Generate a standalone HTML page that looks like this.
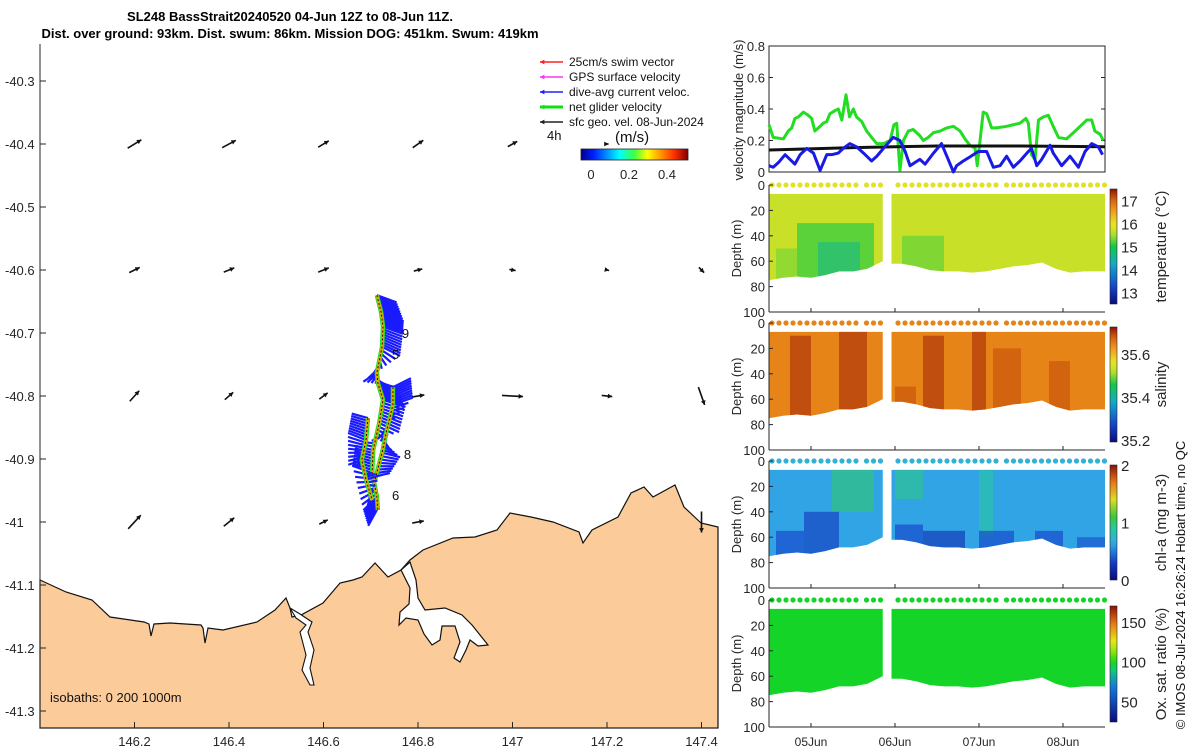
<!DOCTYPE html>
<html><head><meta charset="utf-8">
<style>
html,body{margin:0;padding:0;background:#fff;}
svg{display:block;font-family:"Liberation Sans",sans-serif;}
.t{font-size:13px;fill:#262626;}
</style></head>
<body>
<svg id="fig" width="1200" height="750" viewBox="0 0 1200 750">
<g id="mapg"></g>
<g id="rightg"></g>
</svg>
<script>
// ===== Map data =====
const mapLonTicks=[146.2,146.4,146.6,146.8,147,147.2,147.4];
const mapLonLabels=['146.2','146.4','146.6','146.8','147','147.2','147.4'];
const mapLatTicks=[-40.3,-40.4,-40.5,-40.6,-40.7,-40.8,-40.9,-41,-41.1,-41.2,-41.3];
const mapLatLabels=['-40.3','-40.4','-40.5','-40.6','-40.7','-40.8','-40.9','-41','-41.1','-41.2','-41.3'];
const quivLon=[146.2,146.4,146.6,146.8,147,147.2,146.2,146.4,146.6,146.8,147,147.2,147.4,146.2,146.4,146.6,146.8,147,147.2,147.4,146.2,146.4,146.6,146.8,147.4];
const quivLat=[-40.4,-40.4,-40.4,-40.4,-40.4,-40.4,-40.6,-40.6,-40.6,-40.6,-40.6,-40.6,-40.6,-40.8,-40.8,-40.8,-40.8,-40.8,-40.8,-40.8,-41,-41,-41,-41,-41];
const quivU=[0.13,0.13,0.1,0.1,0.09,0.03,0.1,0.1,0.1,0.08,0.06,0.04,0.05,0.09,0.08,0.08,0.12,0.2,0.1,0.06,0.12,0.1,0.08,0.11,0.0];
const quivV=[0.08,0.07,0.06,0.07,0.05,0.0,0.05,0.04,0.04,0.02,-0.01,-0.01,-0.05,0.1,0.07,0.06,0.02,-0.01,-0.01,-0.17,0.13,0.08,0.04,0.02,-0.2];
const trackLon=[146.713,146.722,146.726,146.724,146.713,146.715,146.726,146.718,146.705,146.703,146.713,146.715];
const trackLat=[-40.640,-40.667,-40.690,-40.722,-40.763,-40.779,-40.806,-40.843,-40.886,-40.922,-40.960,-40.981];
const curU=[0.22,0.25,0.22,0.2,-0.15,0.2,0.25,0.22,-0.2,-0.22,-0.15,-0.1];
const curV=[-0.08,-0.1,-0.08,-0.1,-0.1,-0.05,-0.08,-0.1,0.05,0.08,-0.15,-0.2];
const track2Lon=[146.747,146.747,146.734,146.724,146.709];
const track2Lat=[-40.786,-40.814,-40.854,-40.890,-40.933];
const cur2U=[0.2,0.22,-0.1,0.2,0.15];
const cur2V=[0.1,0.08,-0.1,-0.05,0.05];
const track3Lon=[146.694,146.690,146.681,146.690,146.703];
const track3Lat=[-40.835,-40.870,-40.902,-40.933,-40.965];
const cur3U=[-0.18,-0.2,-0.15,0.15,-0.1];
const cur3V=[0.05,0.08,-0.05,0.05,-0.2];
const trackLabels=['9','5','8','6'];
const trackLabelLon=[146.766,146.745,146.770,146.745];
const trackLabelLat=[-40.708,-40.741,-40.900,-40.965];

// ===== Time-series data (hours since 04-Jun 12Z) =====
const dateTickHours=[12,36,60,84];
const dateTickLabels=['05Jun','06Jun','07Jun','08Jun'];
const velTicks=[0,0.2,0.4,0.6,0.8];
const greenT=[0,1.2,4.1,5.5,6.5,7.4,8.4,9.8,11.2,12.2,13.1,14.6,15.5,16.5,17.4,18.9,19.8,20.8,22.0,23.0,24.1,25.0,26.5,27.9,29.3,30.8,32.7,34.6,35.7,36.5,37.4,38.4,39.8,41.2,43.1,44.1,45.5,47.0,48.9,50.8,52.7,54.6,56.0,57.4,58.9,59.5,60.3,61.2,62.2,63.6,65.0,67.9,69.8,71.7,73.4,74.1,75.0,76.0,77.0,78.4,79.8,81.2,82.7,85.0,87.0,88.9,90.8,92.2,93.1,94.6,95.5];
const greenV=[0.30,0.22,0.21,0.26,0.28,0.34,0.35,0.38,0.36,0.34,0.26,0.29,0.31,0.32,0.37,0.39,0.40,0.33,0.49,0.35,0.40,0.35,0.32,0.26,0.22,0.18,0.18,0.20,0.30,0.31,0.01,0.20,0.26,0.27,0.23,0.20,0.22,0.25,0.26,0.28,0.29,0.26,0.21,0.17,0.15,0.04,0.20,0.38,0.37,0.28,0.28,0.29,0.30,0.31,0.34,0.31,0.11,0.08,0.33,0.35,0.36,0.29,0.22,0.21,0.25,0.29,0.33,0.33,0.26,0.24,0.20];
const blueT=[0,1.2,2.7,4.6,6.0,7.4,8.9,10.8,12.7,14.6,16.5,17.9,19.8,21.2,23.1,25.0,27.0,29.3,30.8,32.7,35.5,37.4,38.9,40.3,41.7,43.1,44.6,47.0,49.3,51.2,52.7,53.6,55.5,57.0,58.4,59.8,62.2,64.1,66.0,67.9,69.8,71.7,74.1,75.0,76.5,77.9,80.3,81.2,83.6,86.0,88.4,90.3,92.2,94.1,95.3];
const blueV=[0.04,0.03,0.06,0.11,0.08,0.05,0.11,0.15,0.12,0.01,0.11,0.11,0.12,0.15,0.18,0.16,0.12,0.07,0.10,0.15,0.22,0.20,0.13,0.04,0.06,0.08,0.05,0.12,0.18,0.08,0.00,0.04,0.07,0.09,0.11,0.13,0.13,0.03,0.04,0.10,0.03,0.07,0.13,0.15,0.04,0.08,0.17,0.12,0.04,0.10,0.03,0.13,0.18,0.16,0.11];
const blackT=[0,24,48,72,96];
const blackV=[0.14,0.155,0.165,0.165,0.16];
const block1T=[0,4,8,12,16,20,24,28,32.5];
const block1D=[75,73,72,73,71,68,68,66,60];
const block2T=[35,38,42,46,50,54,58,62,66,70,74,78,82,86,90,94,96];
const block2D=[62,62,64,67,68,68,69,68,66,64,63,61,66,69,68,68,68];
const dotT=[0,2,4,6,8,10,12,14,16,18,20,22,24,27,29,31,36,38,40,42,44,46,48,50,52,54,56,58,60,62,64,67,69,71,73,75,77,79,81,83,85,87,89,91,93,95];
const depthTicks=[0,20,40,60,80,100];
const tempBase=15.6, tempSurf=15.9;
const tempPatches=[[8,30,30,75,15.0],[14,26,45,75,14.6],[38,50,40,70,15.2],[2,8,50,75,15.3]];
const salBase=35.645, salSurf=35.645;
const salPatches=[[6,12,10,75,35.71],[20,28,5,75,35.71],[44,50,10,70,35.71],[58,62,5,70,35.71],[64,72,20,70,35.69],[80,86,30,70,35.69],[36,42,50,70,35.69]];
const chlBase=0.62, chlSurf=0.7;
const chlPatches=[[18,30,5,40,1.0],[36,44,5,30,0.95],[60,64,5,60,0.9],[2,10,55,75,0.3],[10,20,40,75,0.25],[36,44,50,70,0.3],[44,56,55,70,0.2],[60,70,55,70,0.3],[76,84,55,70,0.3],[88,96,60,70,0.35]];
const oxBase=98, oxSurf=98;
const oxPatches=[];

// ===== helpers =====
const NS='http://www.w3.org/2000/svg';
function mk(parent,tag,attrs,text){const e=document.createElementNS(NS,tag);for(const k in attrs)e.setAttribute(k,attrs[k]);if(text!==undefined)e.textContent=text;parent.appendChild(e);return e;}
const mapg=document.getElementById('mapg');
const rightg=document.getElementById('rightg');
const lx=lon=>40+(lon-146)*472.5;
const ly=lat=>81+(-40.3-lat)*630;

let e;
e=mk(mapg,'text',{x:290,y:21,'text-anchor':'middle','font-size':'13','font-weight':'bold',fill:'#000'},'SL248 BassStrait20240520 04-Jun 12Z to 08-Jun 11Z.');

e=mk(mapg,'text',{x:290,y:38,'text-anchor':'middle','font-size':'13','font-weight':'bold',fill:'#000'},'Dist. over ground: 93km. Dist. swum: 86km. Mission DOG: 451km. Swum: 419km');


const landPts=[[40,580],[66,592],[92,600],[110,617],[144,622],[149,624],[151,636],[154,624],[170,623],[201,625],[203,628],[205,643],[208,628],[223,630],[257,622],[275,610],[286,598],[290,608],[292,617],[301,615],[323,603],[340,583],[353,580],[362,577],[375,563],[388,577],[401,570],[410,560],[423,550],[453,538],[475,537],[497,530],[510,513],[531,517],[553,522],[579,532],[583,543],[592,530],[618,517],[631,493],[644,487],[653,497],[675,485],[684,507],[701,523],[718,527],[718,728],[40,728]];
e=mk(mapg,'polygon',{points:landPts.map(p=>p.join(',')).join(' '),fill:'#fbcb9a',stroke:'#111','stroke-width':1.2});

const tamar=[[401,570],[410,562],[416,580],[418,598],[425,610],[445,608],[462,615],[472,625],[480,635],[488,645],[478,646],[470,640],[466,650],[460,662],[454,658],[460,642],[455,626],[442,626],[440,640],[432,645],[424,634],[418,620],[406,618],[399,625],[400,612],[409,604],[410,588]];
e=mk(mapg,'polygon',{points:tamar.map(p=>p.join(',')).join(' '),fill:'#fff',stroke:'#111','stroke-width':1.2});

const sorell=[[290,608],[296,618],[306,625],[300,632],[306,655],[302,670],[310,685],[314,685],[310,668],[314,650],[308,632],[312,622],[300,614]];
e=mk(mapg,'polygon',{points:sorell.map(p=>p.join(',')).join(' '),fill:'#fff',stroke:'#111','stroke-width':1.1});


e=mk(mapg,'line',{x1:40,y1:44,x2:40,y2:728,stroke:'#262626','stroke-width':1});

e=mk(mapg,'line',{x1:40,y1:728,x2:718,y2:728,stroke:'#262626','stroke-width':1});

mapLonTicks.forEach((v,i)=>{
  const x=lx(v);
  e=mk(mapg,'line',{x1:x,y1:728,x2:x,y2:722,stroke:'#262626'});
  
  e=mk(mapg,'text',{x:x,y:746,'text-anchor':'middle',class:'t'},mapLonLabels[i]);
  
});
mapLatTicks.forEach((v,i)=>{
  const y=ly(v);
  e=mk(mapg,'line',{x1:40,y1:y,x2:46,y2:y,stroke:'#262626'});
  
  e=mk(mapg,'text',{x:5,y:y+5,class:'t'},mapLatLabels[i]);
  
});

function arrow(g,x1,y1,x2,y2,col,w,name,h){
  h=h||5;
  const a=mk(g,'g',{});
  
  mk(a,'line',{x1:x1,y1:y1,x2:x2,y2:y2,stroke:col,'stroke-width':w});
  const ang=Math.atan2(y2-y1,x2-x1);
  const p1=[x2-h*Math.cos(ang-0.5),y2-h*Math.sin(ang-0.5)],p2=[x2-h*Math.cos(ang+0.5),y2-h*Math.sin(ang+0.5)];
  mk(a,'polygon',{points:`${x2},${y2} ${p1} ${p2}`,fill:col});
}
const qs=105;
quivLon.forEach((lon,i)=>{
  const cx=lx(lon),cy=ly(quivLat[i]);
  const dx=quivU[i]*qs,dy=-quivV[i]*qs;
  arrow(mapg,cx-dx/2,cy-dy/2,cx+dx/2,cy+dy/2,'#111',1.6,'surface-current-arrow',5);
});

function drawTrack(lons,lats,us,vs,name){
  const g=mk(mapg,'g',{});
  
  const cs=90;
  for(let i=0;i<lons.length-1;i++){
    for(let k=0;k<8;k++){
      const f=k/8;
      const x=lx(lons[i])*(1-f)+lx(lons[i+1])*f, y=ly(lats[i])*(1-f)+ly(lats[i+1])*f;
      const u=us[i]*(1-f)+us[i+1]*f, v=vs[i]*(1-f)+vs[i+1]*f;
      mk(g,'line',{x1:x,y1:y,x2:x+u*cs,y2:y-v*cs,stroke:'#1a1aff','stroke-width':2.2});
    }
  }
  const pts=lons.map((l,i)=>lx(l)+','+ly(lats[i])).join(' ');
  mk(g,'polyline',{points:pts,fill:'none',stroke:'#22dd22','stroke-width':4.5});
  mk(g,'polyline',{points:pts,fill:'none',stroke:'#f0a800','stroke-width':2.5});
  mk(g,'polyline',{points:pts,fill:'none',stroke:'#111','stroke-width':1,'stroke-dasharray':'2,2'});
}
drawTrack(trackLon,trackLat,curU,curV,'glider-track-main');
drawTrack(track2Lon,track2Lat,cur2U,cur2V,'glider-track-east');
drawTrack(track3Lon,track3Lat,cur3U,cur3V,'glider-track-west');
trackLabels.forEach((s,i)=>{
  e=mk(mapg,'text',{x:lx(trackLabelLon[i]),y:ly(trackLabelLat[i]),'font-size':'13',fill:'#111'},s);
  
});
e=mk(mapg,'text',{x:50,y:702,'font-size':'13',fill:'#111'},'isobaths: 0   200  1000m');


const legItems=['25cm/s swim vector','GPS surface velocity','dive-avg current veloc.','net glider velocity','sfc geo. vel. 08-Jun-2024'];
const legCols=['#ff2020','#ff30ff','#2020ff','#10e010','#222'];
const lg=mk(mapg,'g',{});

legItems.forEach((s,i)=>{
  const y=62+i*15;
  arrow(lg,563,y,540,y,legCols[i],i==3?3:1.5,'legend-entry-swatch',5);
  e=mk(lg,'text',{x:569,y:y+4,'font-size':'12',fill:'#111'},s);
  
});
e=mk(lg,'text',{x:547,y:140,'font-size':'13',fill:'#111'},'4h');

e=mk(lg,'text',{x:615,y:142,'font-size':'15',fill:'#111'},'(m/s)');

const defs=mk(document.getElementById('fig'),'defs',{});
const jg=mk(defs,'linearGradient',{id:'jet',x1:0,x2:1,y1:0,y2:0});
[['0','#00008f'],['0.12','#0020ff'],['0.36','#00ffff'],['0.5','#40ff40'],['0.62','#ffff00'],['0.87','#ff3000'],['1','#800000']].forEach(s=>mk(jg,'stop',{offset:s[0],'stop-color':s[1]}));
e=mk(lg,'rect',{x:581,y:149,width:107,height:11,fill:'url(#jet)',stroke:'#222','stroke-width':0.8});

[['0',591],['0.2',629],['0.4',667]].forEach(t=>{
  e=mk(lg,'text',{x:t[1],y:179,'text-anchor':'middle',class:'t'},t[0]);
  
});

// ===== right panels =====
const px0=769,px1=1105;
const tx=t=>px0+t*(px1-px0)/96;
const vy=v=>172-v*157.5;
e=mk(rightg,'rect',{x:px0,y:46,width:px1-px0,height:126,fill:'none',stroke:'#262626'});

velTicks.forEach(v=>{
  e=mk(rightg,'text',{x:px0-4,y:vy(v)+5,'text-anchor':'end',class:'t'},String(v));
  
  mk(rightg,'line',{x1:px0,y1:vy(v),x2:px0+4,y2:vy(v),stroke:'#262626'});
  mk(rightg,'line',{x1:px1,y1:vy(v),x2:px1-4,y2:vy(v),stroke:'#262626'});
});
e=mk(rightg,'text',{transform:`translate(743,110) rotate(-90)`,'text-anchor':'middle',class:'t'},'velocity magnitude (m/s)');

function line(T,V,col,w,name){
  e=mk(rightg,'polyline',{points:T.map((t,i)=>tx(t)+','+vy(V[i])).join(' '),fill:'none',stroke:col,'stroke-width':w,'stroke-linejoin':'round'});
  
}
line(greenT,greenV,'#22dd22',3,'net-glider-velocity-line');
line(blackT,blackV,'#111',3,'surface-geostrophic-velocity-line');
line(blueT,blueV,'#1a1ae6',3,'dive-avg-current-line');

function lerpCol(stops,f){
  f=Math.max(0,Math.min(1,f));
  for(let i=0;i<stops.length-1;i++){
    if(f<=stops[i+1][0]){
      const a=stops[i],b=stops[i+1],u=(f-a[0])/(b[0]-a[0]);
      const ca=a[1],cb=b[1];
      return 'rgb('+[0,1,2].map(k=>Math.round(ca[k]+(cb[k]-ca[k])*u)).join(',')+')';
    }
  }
  const c=stops[stops.length-1][1];return `rgb(${c})`;
}
const turbo=[[0,[10,10,128]],[0.15,[20,70,200]],[0.35,[20,170,200]],[0.5,[20,200,70]],[0.62,[200,225,40]],[0.7,[232,225,40]],[0.82,[240,150,30]],[0.92,[210,90,10]],[1,[140,15,10]]];
const panels=[
 {name:'temperature',top:185,min:12.5,max:17.5,base:tempBase,surf:tempSurf,patches:tempPatches,ticks:[13,14,15,16,17],label:'temperature (°C)',cb:[189,304]},
 {name:'salinity',top:323,min:35.19,max:35.725,base:salBase,surf:salSurf,patches:salPatches,ticks:[35.2,35.4,35.6],label:'salinity',cb:[327,442]},
 {name:'chlorophyll',top:461,min:0,max:2,base:chlBase,surf:chlSurf,patches:chlPatches,ticks:[0,1,2],label:'chl-a (mg m-3)',cb:[465,580]},
 {name:'oxygen',top:600,min:24,max:170,base:oxBase,surf:oxSurf,patches:oxPatches,ticks:[50,100,150],label:'Ox. sat. ratio (%)',cb:[606,722]}
];
panels.forEach((P,pi)=>{
  const g=mk(rightg,'g',{});
  
  const dy=d=>P.top+d*1.27;
  const col=v=>pi==3?lerpCol([[0,[10,10,128]],[0.3,[20,120,220]],[0.45,[20,200,120]],[0.52,[20,215,20]],[0.62,[160,230,20]],[0.7,[230,230,20]],[0.85,[230,120,20]],[1,[140,15,10]]],(v-P.min)/(P.max-P.min)):lerpCol(pi==2?[[0,[10,10,128]],[0.15,[20,60,200]],[0.32,[50,170,230]],[0.45,[40,200,160]],[0.55,[60,200,60]],[0.7,[220,220,40]],[0.85,[230,120,20]],[1,[140,15,10]]]:turbo,(v-P.min)/(P.max-P.min));
  const cid='clip'+pi;
  const cp=mk(defs,'clipPath',{id:cid});
  const poly=(T,D)=>{let s=tx(T[0])+','+dy(7);s+=' '+tx(T[T.length-1])+','+dy(7);for(let i=T.length-1;i>=0;i--)s+=' '+tx(T[i])+','+dy(D[i]);return s;};
  mk(cp,'polygon',{points:poly(block1T,block1D)});
  mk(cp,'polygon',{points:poly(block2T,block2D)});
  const dg=mk(g,'g',{'clip-path':`url(#${cid})`});
  
  mk(dg,'rect',{x:px0,y:dy(0),width:px1-px0,height:dy(80)-dy(0),fill:col(P.base)});
  P.patches.forEach(p=>{
    e=mk(dg,'rect',{x:tx(p[0]),y:dy(p[2]),width:tx(p[1])-tx(p[0]),height:dy(p[3])-dy(p[2]),fill:col(p[4]),opacity:0.6});
    
  });
  dotT.forEach(t=>{
    e=mk(g,'circle',{cx:tx(t)+3,cy:dy(0),r:2.6,fill:col(P.surf)});
    
  });
  mk(g,'line',{x1:px0,y1:dy(0),x2:px0,y2:dy(100),stroke:'#262626'});
  mk(g,'line',{x1:px0,y1:dy(100),x2:px1,y2:dy(100),stroke:'#262626'});
  depthTicks.forEach(d=>{
    mk(g,'line',{x1:px0,y1:dy(d),x2:px0+4,y2:dy(d),stroke:'#262626'});
    e=mk(g,'text',{x:px0-4,y:dy(d)+5,'text-anchor':'end',class:'t'},String(d));
    
  });
  dateTickHours.forEach(h=>mk(g,'line',{x1:tx(h),y1:dy(100),x2:tx(h),y2:dy(100)-4,stroke:'#262626'}));
  e=mk(g,'text',{transform:`translate(741,${dy(50)}) rotate(-90)`,'text-anchor':'middle',class:'t'},'Depth (m)');
  
  const cg=mk(defs,'linearGradient',{id:'cb'+pi,x1:0,x2:0,y1:1,y2:0});
  for(let k=0;k<=20;k++)mk(cg,'stop',{offset:k/20,'stop-color':col(P.min+(P.max-P.min)*k/20)});
  e=mk(g,'rect',{x:1110,y:P.cb[0],width:7,height:P.cb[1]-P.cb[0],fill:`url(#cb${pi})`,stroke:'#262626','stroke-width':0.6});
  
  const cy=v=>P.cb[1]-(v-P.min)/(P.max-P.min)*(P.cb[1]-P.cb[0]);
  P.ticks.forEach(v=>{
    e=mk(g,'text',{x:1121,y:cy(v)+6,'font-size':'15',fill:'#262626'},String(v));
    
  });
  e=mk(g,'text',{transform:`translate(1166,${(P.cb[0]+P.cb[1])/2}) rotate(-90)`,'text-anchor':'middle','font-size':'15',fill:'#262626'},P.label);
  
});
dateTickHours.forEach((h,i)=>{
  e=mk(rightg,'text',{x:tx(h),y:746,'text-anchor':'middle','font-size':'12',fill:'#262626'},dateTickLabels[i]);
  
});
e=mk(rightg,'text',{transform:'translate(1185,585) rotate(-90)','text-anchor':'middle','font-size':'13',fill:'#111'},'© IMOS 08-Jul-2024 16:26:24 Hobart time, no QC');

</script>
</body></html>
